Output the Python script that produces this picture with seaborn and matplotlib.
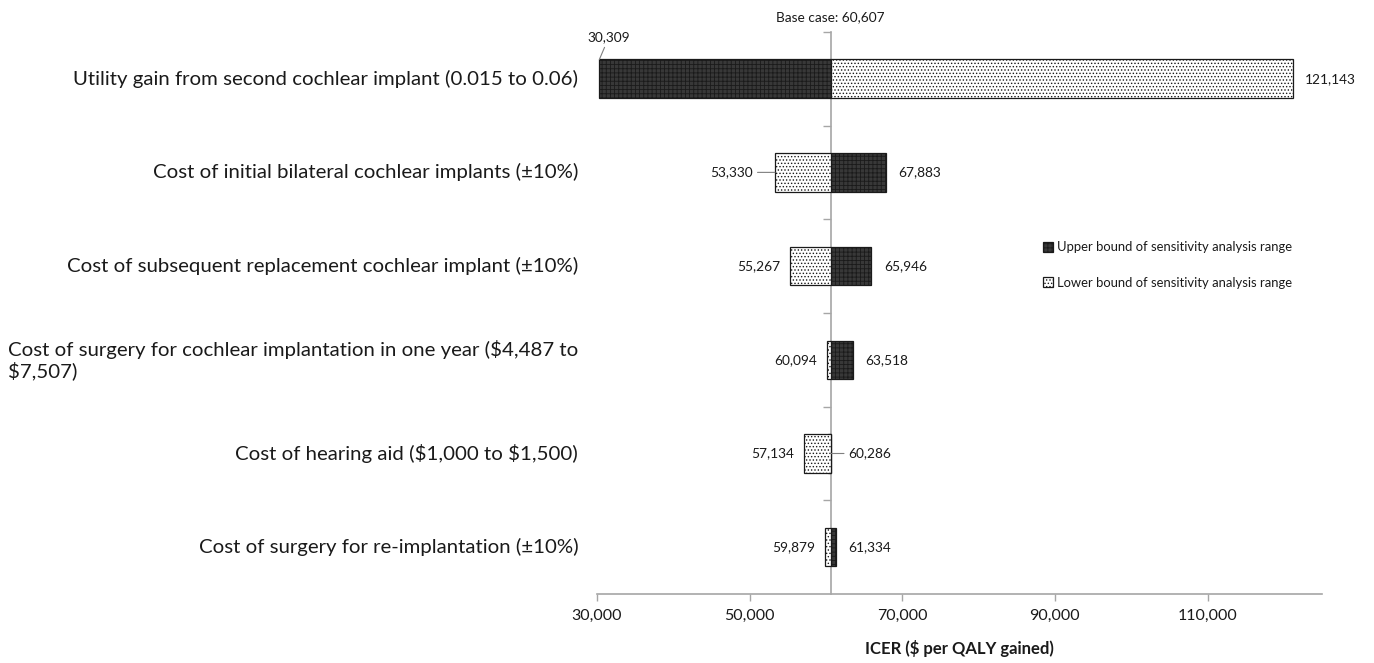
import numpy as np
import pandas as pd
import matplotlib.pyplot as plt
import matplotlib.transforms as mtransforms
import seaborn as sns

# tornado data (ICER, $ per QALY gained)
base_case = 60607
parameters = [
    "Utility gain from second cochlear implant (0.015 to 0.06)",
    "Cost of initial bilateral cochlear implants (±10%)",
    "Cost of subsequent replacement cochlear implant (±10%)",
    "Cost of surgery for cochlear implantation in one year (\\$4,487 to\n\\$7,507)",
    "Cost of hearing aid (\\$1,000 to \\$1,500)",
    "Cost of surgery for re-implantation (±10%)",
]
upper_icer = [30309, 67883, 65946, 63518, 60286, 61334]
lower_icer = [121143, 53330, 55267, 60094, 57134, 59879]
bound_names = ["Upper bound of sensitivity analysis range",
               "Lower bound of sensitivity analysis range"]
x_ticks = [30000, 50000, 70000, 90000, 110000]

df = pd.DataFrame({
    "parameter": parameters * 2,
    "bound": [bound_names[0]] * len(parameters) + [bound_names[1]] * len(parameters),
    "icer": upper_icer + lower_icer,
})
df["shift"] = df["icer"] - base_case

sns.set_theme(style="white")
plt.rcParams["font.family"] = ["Lato", "DejaVu Sans"]
plt.rcParams["hatch.linewidth"] = 0.6
txt = "#1a1a1a"
grey = "#a6a6a6"

fig = plt.figure(figsize=(13.74, 6.63), dpi=100)
ax = fig.add_axes([0.4345, 0.104, 0.5277, 0.848])

sns.barplot(data=df, x="shift", y="parameter", hue="bound", dodge=False,
            left=base_case, width=0.41, palette=["#383838", "white"],
            edgecolor="#1a1a1a", linewidth=0.9, errorbar=None, legend=False, ax=ax)

# patterns like the excel fills
for bars, hatch in zip(ax.containers, ["++++", "....."]):
    for bar in bars:
        bar.set_hatch(hatch)
        bar.set_zorder(2)

ax.set_xlim(30000, 125000)
ax.set_ylim(len(parameters) - 0.5, -0.5)
ax.set_xticks(x_ticks)
ax.set_xticklabels([f"{t:,}" for t in x_ticks], fontsize=11.5, color=txt)
ax.tick_params(axis="x", length=5, color=grey, width=1, pad=6, bottom=True)

# vertical axis crosses at the base case
ax.spines["left"].set_position(("data", base_case))
ax.spines["left"].set_color(grey)
ax.spines["left"].set_linewidth(1.2)
ax.spines["left"].set_zorder(1)
ax.spines["bottom"].set_color(grey)
ax.spines["bottom"].set_linewidth(1.2)
ax.spines["top"].set_visible(False)
ax.spines["right"].set_visible(False)
ax.set_yticks(np.arange(-0.5, len(parameters) - 0.5, 1))
ax.tick_params(axis="y", left=True, length=6, color=grey, width=1, labelleft=False)
ax.set_ylabel("")
ax.set_xlabel("ICER (\\$ per QALY gained)", fontsize=12, fontweight="bold", color=txt, labelpad=12)

trans = mtransforms.blended_transform_factory(ax.transAxes, ax.transData)
for i, name in enumerate(parameters):
    ax.text(-0.026, i, name, transform=trans, ha="right", va="center",
            multialignment="left", fontsize=14.7, color=txt, linespacing=1.15)

ax.text(base_case, 1.015, f"Base case: {base_case:,}", transform=ax.get_xaxis_transform(),
        ha="center", va="bottom", fontsize=9.8, color=txt)

leader = dict(arrowstyle="-", color="#7f7f7f", lw=0.8, shrinkA=1, shrinkB=0)
for i in range(len(parameters)):
    lo = min(upper_icer[i], lower_icer[i])
    hi = max(upper_icer[i], lower_icer[i])
    # low end label
    if lo - 30000 < 3000:
        ax.annotate(f"{lo:,}", xy=(lo, i - 0.205), xytext=(7, 12), textcoords="offset points",
                    ha="center", va="bottom", fontsize=9.9, color=txt, arrowprops=leader)
    elif i == 1:
        ax.annotate(f"{lo:,}", xy=(lo, i), xytext=(-16, 0), textcoords="offset points",
                    ha="right", va="center", fontsize=9.9, color=txt, arrowprops=leader)
    else:
        ax.annotate(f"{lo:,}", xy=(lo, i), xytext=(-7, 0), textcoords="offset points",
                    ha="right", va="center", fontsize=9.9, color=txt)
    # high end label
    if hi < base_case:
        ax.annotate(f"{hi:,}", xy=(base_case, i), xytext=(13, 0), textcoords="offset points",
                    ha="left", va="center", fontsize=9.9, color=txt, arrowprops=leader)
    else:
        ax.annotate(f"{hi:,}", xy=(hi, i), xytext=(9, 0), textcoords="offset points",
                    ha="left", va="center", fontsize=9.9, color=txt)

ax.legend(ax.containers[:2], bound_names, loc="center left", bbox_to_anchor=(0.606, 0.585),
          frameon=False, fontsize=9.4, handlelength=0.8, handleheight=0.8,
          handletextpad=0.3, labelspacing=1.8, borderpad=0, labelcolor=txt)

plt.savefig("out.png", dpi=100)
